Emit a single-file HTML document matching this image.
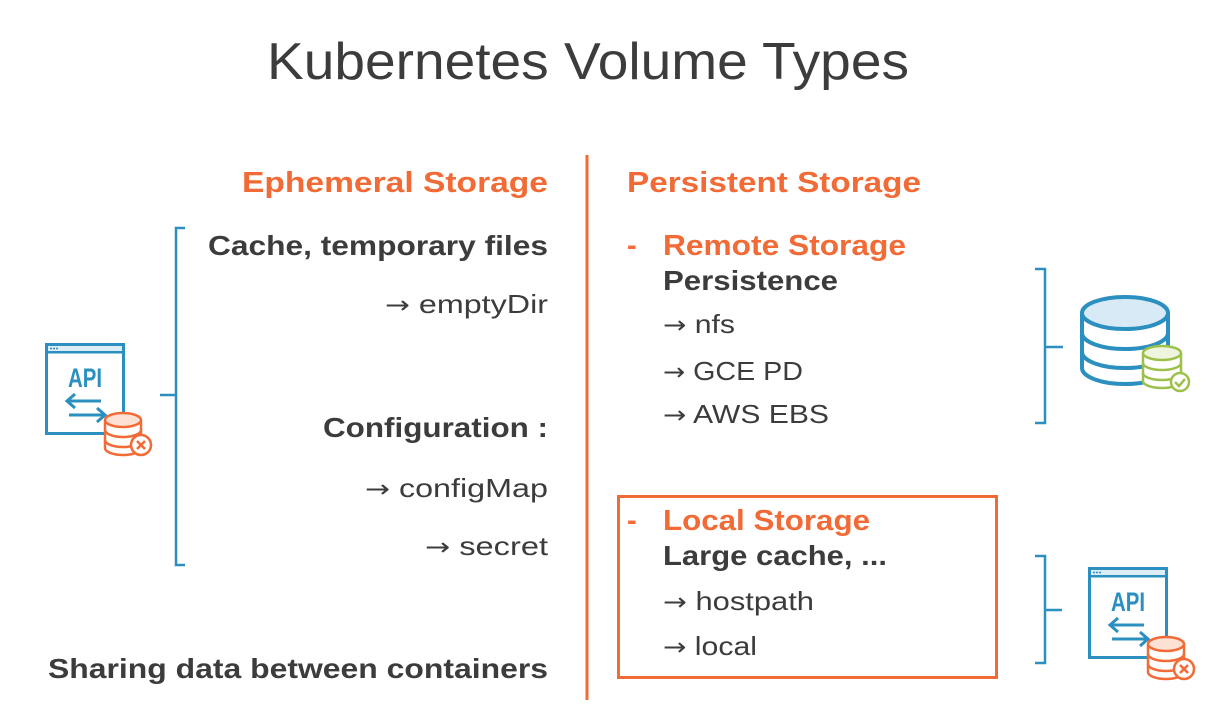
<!DOCTYPE html>
<html><head><meta charset="utf-8"><style>
html,body{margin:0;padding:0;background:#fff;}
svg{display:block;font-family:"Liberation Sans",sans-serif;}
.o{fill:#f26a35;font-weight:bold;font-size:29px;}
.d{fill:#3c3c3c;font-weight:bold;font-size:28px;}
.r{fill:#3c3c3c;font-size:26px;}
.a{font-family:"DejaVu Sans",sans-serif;font-size:24px;}
</style></head><body>
<svg width="1219" height="709" viewBox="0 0 1219 709">
<defs>
<g id="api">
<rect x="1.5" y="1.5" width="77" height="89" fill="#fff" stroke="#2b8fbf" stroke-width="3"/>
<line x1="1.5" y1="9" x2="78.5" y2="9" stroke="#2b8fbf" stroke-width="3"/>
<rect x="3" y="3" width="74" height="5" fill="#dcedf6"/>
<circle cx="6" cy="5.5" r="1" fill="#2b8fbf"/><circle cx="9" cy="5.5" r="1" fill="#2b8fbf"/><circle cx="12" cy="5.5" r="1" fill="#2b8fbf"/>
<text x="40" y="44" text-anchor="middle" font-size="27" font-weight="bold" fill="#2b8fbf" textLength="34" lengthAdjust="spacingAndGlyphs">API</text>
<path d="M56 58H22M30 51l-8 7 8 7M24 72H60M52 65l8 7-8 7" fill="none" stroke="#2b8fbf" stroke-width="3"/>
<g fill="#fff" stroke="#f26a35" stroke-width="2.5">
<path d="M60 77v28a18 7 0 0 0 36 0v-28"/>
<path d="M60 87a18 7 0 0 0 36 0M60 97a18 7 0 0 0 36 0" fill="none"/>
<ellipse cx="78" cy="77" rx="18" ry="7" fill="#fde0d4"/>
<circle cx="96" cy="102" r="10"/>
<path d="M92 98l8 8M100 98l-8 8"/>
</g>
</g>
</defs>
<text x="267" y="79" font-size="52" fill="#3c3c3c" textLength="642" lengthAdjust="spacingAndGlyphs">Kubernetes Volume Types</text>
<line x1="587" y1="155" x2="587" y2="700" stroke="#f26a35" stroke-width="3"/>
<g text-anchor="end">
<text class="o" x="548" y="192" textLength="306" lengthAdjust="spacingAndGlyphs">Ephemeral Storage</text>
<text class="d" x="548" y="255" textLength="340" lengthAdjust="spacingAndGlyphs">Cache, temporary files</text>
<text class="r" x="548" y="313" textLength="163" lengthAdjust="spacingAndGlyphs"><tspan class="a">→</tspan> emptyDir</text>
<text class="d" x="548" y="437" textLength="225" lengthAdjust="spacingAndGlyphs">Configuration :</text>
<text class="r" x="548" y="497" textLength="183" lengthAdjust="spacingAndGlyphs"><tspan class="a">→</tspan> configMap</text>
<text class="r" x="548" y="555" textLength="123" lengthAdjust="spacingAndGlyphs"><tspan class="a">→</tspan> secret</text>
<text class="d" x="548" y="678" textLength="500" lengthAdjust="spacingAndGlyphs">Sharing data between containers</text>
</g>
<path d="M185 228H176V565H185M176 395H160" fill="none" stroke="#2b8fbf" stroke-width="2.5"/>
<use href="#api" x="45" y="343"/>
<text class="o" x="627" y="192" textLength="294" lengthAdjust="spacingAndGlyphs">Persistent Storage</text>
<text class="o" x="627" y="255">-</text>
<text class="o" x="663" y="255" textLength="243" lengthAdjust="spacingAndGlyphs">Remote Storage</text>
<text class="d" x="663" y="290" textLength="175" lengthAdjust="spacingAndGlyphs">Persistence</text>
<text class="r" x="663" y="333" textLength="72" lengthAdjust="spacingAndGlyphs"><tspan class="a">→</tspan> nfs</text>
<text class="r" x="663" y="380" textLength="140" lengthAdjust="spacingAndGlyphs"><tspan class="a">→</tspan> GCE PD</text>
<text class="r" x="663" y="423" textLength="166" lengthAdjust="spacingAndGlyphs"><tspan class="a">→</tspan> AWS EBS</text>
<rect x="618.5" y="496.5" width="378" height="181" fill="none" stroke="#f26a35" stroke-width="3"/>
<text class="o" x="627" y="530">-</text>
<text class="o" x="663" y="530" textLength="207" lengthAdjust="spacingAndGlyphs">Local Storage</text>
<text class="d" x="663" y="565" textLength="224" lengthAdjust="spacingAndGlyphs">Large cache, ...</text>
<text class="r" x="663" y="610" textLength="151" lengthAdjust="spacingAndGlyphs"><tspan class="a">→</tspan> hostpath</text>
<text class="r" x="663" y="655" textLength="94" lengthAdjust="spacingAndGlyphs"><tspan class="a">→</tspan> local</text>
<path d="M1035 269H1045V423H1035M1045 347H1063" fill="none" stroke="#2b8fbf" stroke-width="2.5"/>
<path d="M1035 556H1045V663H1035M1045 610H1062" fill="none" stroke="#2b8fbf" stroke-width="2.5"/>
<g fill="#fff" stroke="#2b8fbf" stroke-width="4">
<path d="M1082 313v55a43 16 0 0 0 86 0v-55"/>
<path d="M1082 333a43 16 0 0 0 86 0M1082 352a43 16 0 0 0 86 0" fill="none"/>
<ellipse cx="1125" cy="313" rx="43" ry="16" fill="#d8eaf5"/>
</g>
<g fill="#fff" stroke="#9dc04a" stroke-width="2.5">
<path d="M1143 353v28a19 7 0 0 0 38 0v-28"/>
<path d="M1143 363a19 7 0 0 0 38 0M1143 373a19 7 0 0 0 38 0" fill="none"/>
<ellipse cx="1162" cy="353" rx="19" ry="7" fill="#eef5dc"/>
<circle cx="1180" cy="382" r="9"/>
<path d="M1175 382l4 4 6-7" fill="none"/>
</g>
<use href="#api" x="1088" y="567"/>
</svg>
</body></html>
